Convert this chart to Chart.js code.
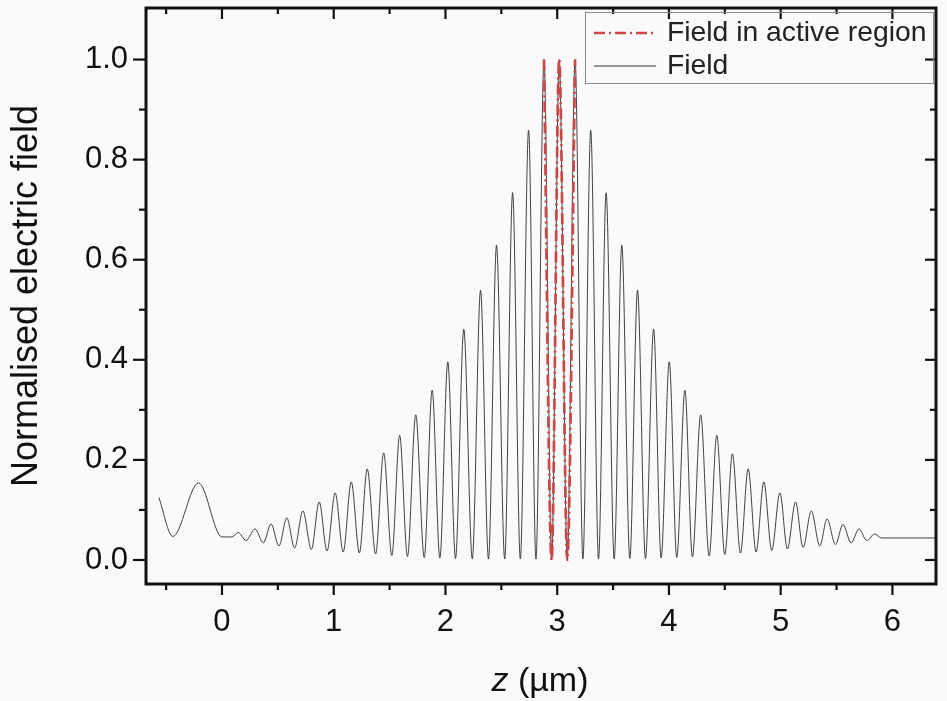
<!DOCTYPE html>
<html>
<head>
<meta charset="utf-8">
<script src="https://cdn.jsdelivr.net/npm/chart.js@4.4.1/dist/chart.umd.min.js"></script>
<style>
  html, body { margin: 0; padding: 0; background: #fafafa; }
  #wrap { width: 947px; height: 701px; }
</style>
</head>
<body>
<div id="wrap"><canvas id="fieldChart" width="947" height="701"></canvas></div>
<script>
// 전체 구조의 전기장 (피크/골 위치, µm)
const fieldZ = [
  -0.565, -0.44, -0.21, 0.00, 0.09, 0.145, 0.215, 0.296, 0.37, 0.439,
  0.51, 0.58, 0.65, 0.724, 0.80, 0.87, 0.94, 1.013, 1.085, 1.157,
  1.23, 1.30, 1.375, 1.447, 1.52, 1.59, 1.66, 1.734, 1.81, 1.881,
  1.95, 2.021, 2.09, 2.164, 2.24, 2.314, 2.385, 2.457, 2.53, 2.601,
  2.67, 2.744, 2.81, 2.882, 2.95, 3.018, 3.09, 3.160, 3.23, 3.300,
  3.37, 3.438, 3.51, 3.578, 3.65, 3.719, 3.79, 3.863, 3.93, 4.003,
  4.07, 4.143, 4.21, 4.284, 4.36, 4.428, 4.50, 4.568, 4.64, 4.709,
  4.78, 4.849, 4.92, 4.993, 5.06, 5.133, 5.20, 5.274, 5.35, 5.415,
  5.49, 5.558, 5.63, 5.701, 5.77, 5.841, 5.90, 6.39
];
const fieldE = [
  0.125, 0.047, 0.154, 0.046, 0.046, 0.055, 0.039, 0.062, 0.034, 0.072,
  0.028, 0.084, 0.024, 0.098, 0.021, 0.116, 0.018, 0.134, 0.016, 0.156,
  0.014, 0.182, 0.012, 0.214, 0.009, 0.249, 0.007, 0.290, 0.005, 0.339,
  0.004, 0.396, 0.003, 0.461, 0.002, 0.539, 0.002, 0.629, 0.002, 0.734,
  0.002, 0.859, 0.002, 1.0, 0.0, 1.0, 0.0, 1.0, 0.002, 0.859,
  0.002, 0.734, 0.002, 0.629, 0.003, 0.539, 0.003, 0.461, 0.004, 0.396,
  0.005, 0.339, 0.006, 0.290, 0.008, 0.249, 0.011, 0.212, 0.014, 0.182,
  0.016, 0.156, 0.019, 0.134, 0.022, 0.116, 0.025, 0.098, 0.028, 0.082,
  0.031, 0.071, 0.034, 0.062, 0.039, 0.052, 0.044, 0.044
];

// 활성 영역 안의 전기장
const activeZ = [2.882, 2.95, 3.018, 3.09, 3.16];
const activeE = [1.0, 0.0, 1.0, 0.0, 1.0];

// 눈금
const xMajorTicks = [0, 1, 2, 3, 4, 5, 6];
const xMinorTicks = [-0.5, 0.5, 1.5, 2.5, 3.5, 4.5, 5.5];
const yMajorTicks = [0, 0.2, 0.4, 0.6, 0.8, 1.0];
const yMinorTicks = [0.1, 0.3, 0.5, 0.7, 0.9];

const labelActive = 'Field in active region';
const labelField = 'Field';

const redColor = 'rgb(204,72,70)';
const redDash = [11, 4, 2, 4];
const fontName = "'Liberation Sans', Arial, Helvetica, sans-serif";

const toPoints = (xs, ys) => xs.map((v, i) => ({ x: v, y: ys[i] }));

// 테두리, 안/밖 눈금, x축 제목, 범례
const framePlugin = {
  id: 'framePlugin',
  afterDraw(chart) {
    const { ctx, chartArea: a, scales: { x, y } } = chart;
    ctx.save();
    ctx.strokeStyle = '#111';
    ctx.lineCap = 'butt';

    const seg = (x1, y1, x2, y2) => {
      ctx.beginPath(); ctx.moveTo(x1, y1); ctx.lineTo(x2, y2); ctx.stroke();
    };

    ctx.lineWidth = 2.2;
    xMajorTicks.forEach(v => {
      const px = x.getPixelForValue(v);
      seg(px, a.bottom, px, a.bottom + 11);
      seg(px, a.top, px, a.top + 11);
    });
    xMinorTicks.forEach(v => {
      const px = x.getPixelForValue(v);
      seg(px, a.bottom, px, a.bottom + 6);
      seg(px, a.top, px, a.top + 6);
    });
    yMajorTicks.forEach(v => {
      const py = y.getPixelForValue(v);
      seg(a.left - 13, py, a.left, py);
      seg(a.right - 11, py, a.right, py);
    });
    yMinorTicks.forEach(v => {
      const py = y.getPixelForValue(v);
      seg(a.left - 7, py, a.left, py);
      seg(a.right - 6, py, a.right, py);
    });

    ctx.lineWidth = 3;
    ctx.strokeRect(a.left, a.top, a.right - a.left, a.bottom - a.top);

    // x축 제목: z 만 기울임
    ctx.fillStyle = '#111';
    ctx.textBaseline = 'middle';
    const ty = 682;
    ctx.font = 'italic 34px ' + fontName;
    const zW = ctx.measureText('z').width;
    ctx.font = '34px ' + fontName;
    const restW = ctx.measureText(' (\u00b5m)').width;
    let tx = (a.left + a.right) / 2 - (zW + restW) / 2 - 1;
    ctx.font = 'italic 34px ' + fontName;
    ctx.textAlign = 'left';
    ctx.fillText('z', tx, ty);
    ctx.font = '34px ' + fontName;
    ctx.fillText(' (\u00b5m)', tx + zW, ty);

    // 범례
    const bx = 585, by = 12, bw = a.right - 3 - bx, bh = 71;
    ctx.lineWidth = 1;
    ctx.strokeStyle = '#8a8a8a';
    ctx.strokeRect(bx + 0.5, by + 0.5, bw, bh);

    ctx.strokeStyle = redColor;
    ctx.lineWidth = 2.5;
    ctx.setLineDash(redDash);
    seg(594, 33, 656, 33);
    ctx.setLineDash([]);
    ctx.strokeStyle = '#333';
    ctx.lineWidth = 1;
    seg(594, 66, 656, 66);

    ctx.font = '28.3px ' + fontName;
    ctx.fillStyle = '#222';
    ctx.fillText(labelActive, 667, 33);
    ctx.fillText(labelField, 667, 66);
    ctx.restore();
  }
};

const ctx = document.querySelector('#fieldChart');

const chart = new Chart(ctx, {
  type: 'line',
  data: {
    datasets: [{
      label: labelActive,
      data: toPoints(activeZ, activeE),
      borderColor: redColor,
      borderWidth: 2.7,
      borderDash: redDash,
      pointRadius: 0,
      fill: false,
      cubicInterpolationMode: 'monotone'
    }, {
      label: labelField,
      data: toPoints(fieldZ, fieldE),
      borderColor: 'rgba(45,45,45,0.9)',
      borderWidth: 1,
      pointRadius: 0,
      fill: false,
      cubicInterpolationMode: 'monotone'
    }]
  },
  options: {
    responsive: false,
    animation: false,
    layout: { padding: { left: 0, right: 11, top: 8, bottom: 0 } },
    plugins: { legend: { display: false }, tooltip: { enabled: false } },
    scales: {
      x: {
        type: 'linear',
        min: -0.68,
        max: 6.39,
        grid: { display: false, drawTicks: false },
        border: { display: false },
        ticks: {
          stepSize: 1,
          includeBounds: false,
          padding: 20,
          color: '#111',
          font: { family: fontName, size: 31 },
          maxRotation: 0
        },
        afterFit: (scale) => {
          scale.height = 117;
          scale.paddingLeft = 0;
          scale.paddingRight = 0;
        }
      },
      y: {
        type: 'linear',
        min: -0.048,
        max: 1.103,
        grid: { display: false, drawTicks: false },
        border: { display: false },
        ticks: {
          stepSize: 0.2,
          includeBounds: false,
          padding: 18,
          color: '#111',
          font: { family: fontName, size: 31 },
          callback: (v) => v.toFixed(1)
        },
        title: {
          display: true,
          text: 'Normalised electric field',
          color: '#111',
          font: { family: fontName, size: 36 },
          padding: { top: 5, bottom: 0 }
        },
        afterFit: (scale) => {
          scale.width = 146;
          scale.paddingTop = 0;
          scale.paddingBottom = 0;
        }
      }
    }
  },
  plugins: [framePlugin]
});
</script>
</body>
</html>
